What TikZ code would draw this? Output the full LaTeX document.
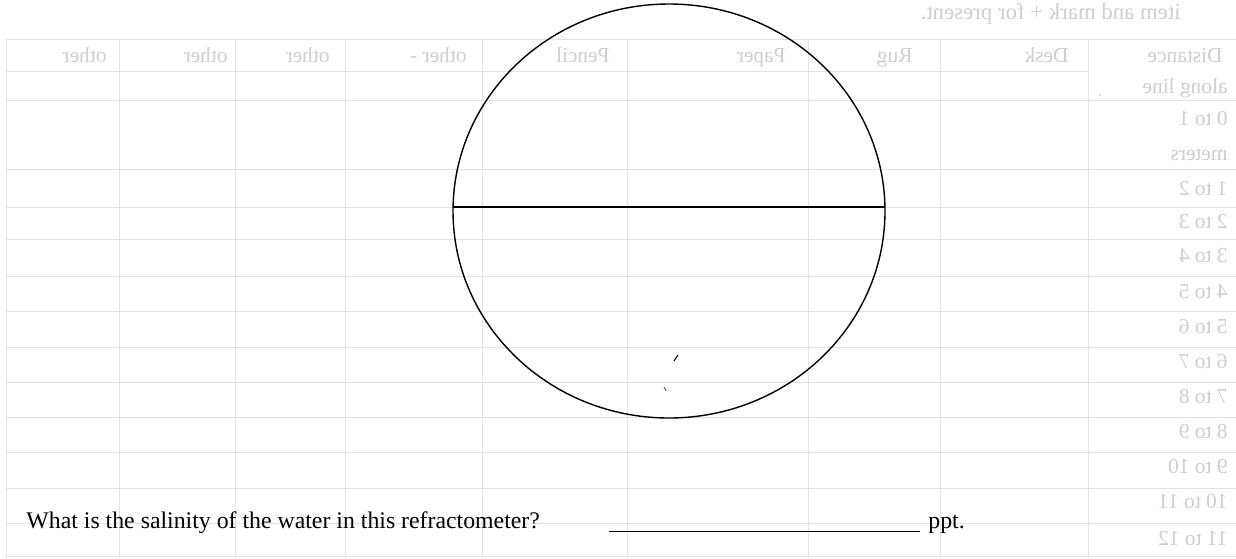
\documentclass[tikz,border=0pt]{standalone}
\usepackage{fontspec}
\setmainfont{Liberation Serif}
\definecolor{gridc}{gray}{0.89}
\definecolor{ghost}{gray}{0.81}
\tikzset{
  gridline/.style={draw=gridc, line width=0.5pt},
  ghosttext/.style={text=ghost, inner sep=0pt, font=\fontsize{10.7}{13}\selectfont},
  mainline/.style={draw=black, line width=0.7pt},
  maintext/.style={text=black, inner sep=0pt, font=\fontsize{11.9}{14}\selectfont}
}
\newcommand{\mir}[1]{\scalebox{-1}[1]{#1}}
\begin{document}
\begin{tikzpicture}[x=0.5pt,y=-0.5pt]
\useasboundingbox (0,0) rectangle (1236,558);
\fill[white] (0,0) rectangle (1236,558);
% faint bleed-through table
\foreach \yy in {39,100,169,207,239,276,311,347,382,417,452,488,523,556}
  \draw[gridline] (6,\yy) -- (1236,\yy);
\draw[gridline] (6,71) -- (1088,71);
\foreach \xx in {6,119,235,345,482,627,808,940,1088}
  \draw[gridline] (\xx,39) -- (\xx,558);
\node[ghosttext, anchor=base east] (h1) at (107,62) {\mir{other}};
\node[ghosttext, anchor=base east] (h2) at (228,62) {\mir{other}};
\node[ghosttext, anchor=base east] (h3) at (330,62) {\mir{other}};
\node[ghosttext, anchor=base east] (h4) at (467,62) {\mir{other -}};
\node[ghosttext, anchor=base east] (h5) at (610,62) {\mir{Pencil}};
\node[ghosttext, anchor=base east] (h6) at (786,62) {\mir{Paper}};
\node[ghosttext, anchor=base east] (h7) at (913,62) {\mir{Rug}};
\node[ghosttext, anchor=base east] (h8) at (1069,62) {\mir{Desk}};
\node[ghosttext, anchor=base east] (h9) at (1223,62) {\mir{Distance}};
\node[ghosttext, anchor=base east] (r0) at (1228,93) {\mir{along line}};
\node[ghosttext, anchor=base east] (r1) at (1228,125) {\mir{0 to 1}};
\node[ghosttext, anchor=base east] (r1b) at (1228,160) {\mir{meters}};
\node[ghosttext, anchor=base east] (r2) at (1228,195) {\mir{1 to 2}};
\node[ghosttext, anchor=base east] (r3) at (1228,228) {\mir{2 to 3}};
\node[ghosttext, anchor=base east] (r4) at (1228,262) {\mir{3 to 4}};
\node[ghosttext, anchor=base east] (r5) at (1228,298) {\mir{4 to 5}};
\node[ghosttext, anchor=base east] (r6) at (1228,333) {\mir{5 to 6}};
\node[ghosttext, anchor=base east] (r7) at (1228,368) {\mir{6 to 7}};
\node[ghosttext, anchor=base east] (r8) at (1228,403) {\mir{7 to 8}};
\node[ghosttext, anchor=base east] (r9) at (1228,438) {\mir{8 to 9}};
\node[ghosttext, anchor=base east] (r10) at (1228,473) {\mir{9 to 10}};
\node[ghosttext, anchor=base east] (r11) at (1228,508) {\mir{10 to 11}};
\node[ghosttext, anchor=base east] (r12) at (1228,545) {\mir{11 to 12}};
\node[ghosttext, anchor=base east, font=\fontsize{11.4}{14}\selectfont] (top) at (1181,19) {\mir{item and mark + for present.}};
\fill[ghost] (1100,95) circle (1.2);
% refractometer view
\draw[mainline] (669,211) ellipse [x radius=216, y radius=207];
\coordinate (cl) at (453,207);
\coordinate (cr) at (885,207);
\draw[mainline] (cl) -- (cr);
\draw[black, line width=0.5pt] (674,361) -- (678,355);
\draw[black!70, line width=0.4pt] (664,387) -- (666,391);
% question
\node[maintext, anchor=base west] (q) at (26,528) {What is the salinity of the water in this refractometer?};
\coordinate (a1) at (609,531);
\coordinate (a2) at (920,531);
\draw[black, line width=0.5pt] (a1) -- (a2);
\node[maintext, anchor=base west] (ppt) at (928,528) {ppt.};
\end{tikzpicture}
\end{document}
